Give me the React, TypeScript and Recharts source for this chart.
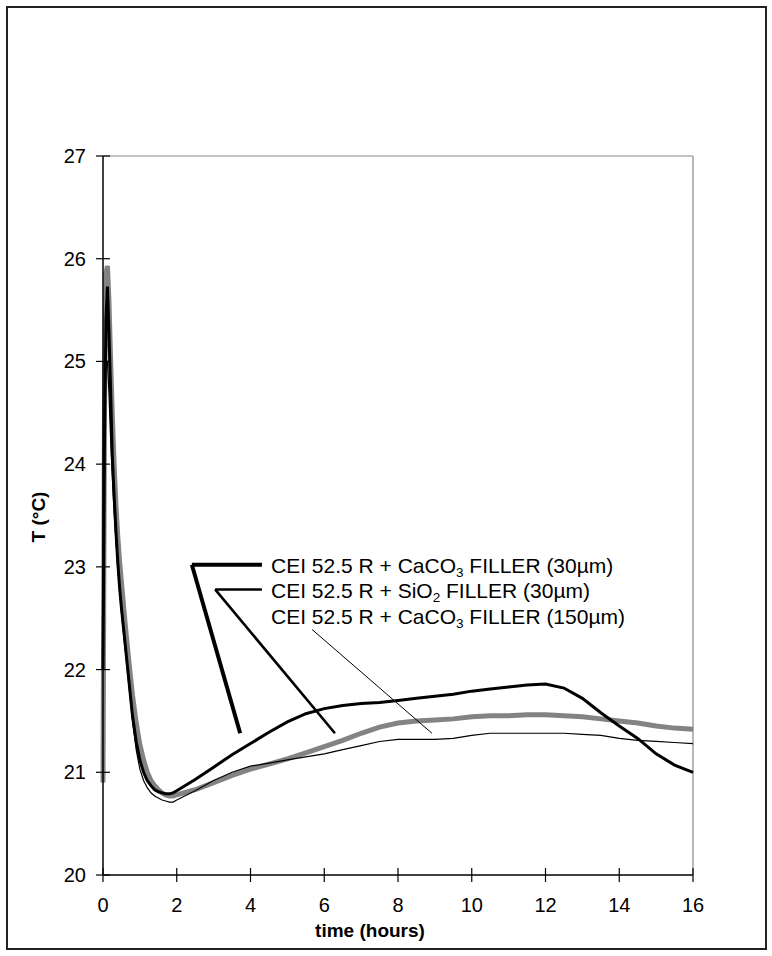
import React from 'react';
import { LineChart, Line, XAxis, YAxis, ReferenceLine } from 'recharts';

// time in hours
const time = [
  0, 0.04, 0.08, 0.12, 0.16, 0.2, 0.25, 0.3, 0.35, 0.4, 0.45, 0.5, 0.6, 0.7, 0.8, 0.9,
  1.0, 1.1, 1.2, 1.3, 1.4, 1.5, 1.6, 1.7, 1.8, 1.9,
  2.0, 2.5, 3.0, 3.5, 4.0, 4.5, 5.0, 5.5, 6.0, 6.5, 7.0, 7.5, 8.0, 8.5, 9.0, 9.5,
  10.0, 10.5, 11.0, 11.5, 12.0, 12.5, 13.0, 13.5, 14.0, 14.5, 15.0, 15.5, 16.0,
];

// CEI 52.5 R + CaCO3 FILLER (30um) - thick black
const caco3Fine = [
  22.0, 24.2, 25.4, 25.73, 25.3, 24.8, 24.1, 23.7, 23.35, 23.05, 22.8, 22.6, 22.25, 21.9, 21.55, 21.3,
  21.12, 21.0, 20.92, 20.87, 20.83, 20.81, 20.8, 20.79, 20.79, 20.8,
  20.82, 20.93, 21.05, 21.17, 21.28, 21.39, 21.49, 21.57, 21.62, 21.65, 21.67, 21.68, 21.7, 21.72, 21.74, 21.76,
  21.79, 21.81, 21.83, 21.85, 21.86, 21.82, 21.72, 21.58, 21.45, 21.33, 21.18, 21.07, 21.0,
];

// CEI 52.5 R + SiO2 FILLER (30um) - grey
const sio2Fine = [
  20.9, 24.5, 25.85, 25.93, 25.6, 25.1, 24.5, 24.0, 23.6, 23.3, 23.05, 22.85, 22.45, 22.08, 21.75, 21.48,
  21.27, 21.12, 21.0, 20.92, 20.87, 20.83, 20.8, 20.78, 20.77, 20.77,
  20.78, 20.83, 20.9, 20.97, 21.03, 21.08, 21.13, 21.19, 21.25, 21.31, 21.38, 21.44, 21.48, 21.5, 21.51, 21.52,
  21.54, 21.55, 21.55, 21.56, 21.56, 21.55, 21.54, 21.52, 21.5, 21.48, 21.45, 21.43, 21.42,
];

// CEI 52.5 R + CaCO3 FILLER (150um) - thin black
const caco3Coarse = [
  22.3, 24.2, 25.0, 25.0, 24.7, 24.3, 23.9, 23.55, 23.25, 22.98, 22.75, 22.55, 22.2, 21.85, 21.5, 21.22,
  21.03, 20.92, 20.85, 20.8, 20.77, 20.75, 20.73, 20.72, 20.71, 20.71,
  20.73, 20.82, 20.92, 21.0, 21.06, 21.09, 21.12, 21.15, 21.18, 21.22, 21.26, 21.3, 21.32, 21.32, 21.32, 21.33,
  21.36, 21.38, 21.38, 21.38, 21.38, 21.38, 21.37, 21.36, 21.33, 21.31, 21.3, 21.29, 21.28,
];

const xTicks = [0, 2, 4, 6, 8, 10, 12, 14, 16];
const yTicks = [20, 21, 22, 23, 24, 25, 26, 27];

const data = time.map((t, i) => ({ t, a: caco3Fine[i], b: sio2Fine[i], c: caco3Coarse[i] }));

const FONT = '"Liberation Sans", Arial, sans-serif';

const YTick = (props: any) => {
  const { x, y, payload } = props;
  return (
    <g>
      <line x1={x - 7} x2={x + 7} y1={y} y2={y} stroke="#000" strokeWidth={1.2} />
      <text x={x - 17} y={y} dy={7} textAnchor="end" fontSize={20} fontFamily={FONT} fill="#000">
        {payload.value}
      </text>
    </g>
  );
};

const XTick = (props: any) => {
  const { x, y, payload } = props;
  return (
    <g>
      <line x1={x} x2={x} y1={y - 7} y2={y + 7} stroke="#000" strokeWidth={1.2} />
      <text x={x} y={y + 37} textAnchor="middle" fontSize={20} fontFamily={FONT} fill="#000">
        {payload.value}
      </text>
    </g>
  );
};

const labelStyle: React.CSSProperties = {
  position: 'absolute',
  left: 271,
  fontFamily: FONT,
  fontSize: 21,
  lineHeight: '22px',
  height: 22,
  whiteSpace: 'nowrap',
  color: '#000',
};
const subStyle: React.CSSProperties = { fontSize: 13.5, position: 'relative', top: 4, lineHeight: '13px' };

export default function App() {
  return (
    <div style={{ position: 'absolute', left: 0, top: 0, width: 772, height: 956, background: '#fff' }}>
      <div
        style={{
          position: 'absolute',
          left: 6,
          top: 6,
          width: 757,
          height: 940,
          border: '2px solid #222',
        }}
      />
      <LineChart
        width={772}
        height={956}
        data={data}
        margin={{ top: 156, right: 79, bottom: 21, left: 23 }}
      >
        <XAxis
          type="number"
          dataKey="t"
          domain={[0, 16]}
          ticks={xTicks}
          interval={0}
          height={60}
          tickLine={false}
          tickSize={0}
          tickMargin={0}
          tick={<XTick />}
          axisLine={{ stroke: '#000', strokeWidth: 1.5 }}
        />
        <YAxis
          type="number"
          domain={[20, 27]}
          ticks={yTicks}
          interval={0}
          width={80}
          tickLine={false}
          tickSize={0}
          tickMargin={0}
          tick={<YTick />}
          axisLine={{ stroke: '#000', strokeWidth: 1.5 }}
        />
        <ReferenceLine y={27} stroke="#888" strokeWidth={1.2} />
        <ReferenceLine x={16} stroke="#888" strokeWidth={1.2} />
        <Line type="linear" dataKey="b" stroke="#838383" strokeWidth={5} dot={false} isAnimationActive={false} />
        <Line type="linear" dataKey="c" stroke="#000" strokeWidth={1.2} dot={false} isAnimationActive={false} />
        <Line type="linear" dataKey="a" stroke="#000" strokeWidth={3} dot={false} isAnimationActive={false} />
        {/* leader lines */}
        <ReferenceLine segment={[{ x: 4.31, y: 23.02 }, { x: 2.41, y: 23.02 }]} stroke="#000" strokeWidth={4} />
        <ReferenceLine segment={[{ x: 2.41, y: 23.02 }, { x: 3.72, y: 21.38 }]} stroke="#000" strokeWidth={4} />
        <ReferenceLine segment={[{ x: 4.31, y: 22.78 }, { x: 3.04, y: 22.78 }]} stroke="#000" strokeWidth={2.6} />
        <ReferenceLine segment={[{ x: 3.04, y: 22.78 }, { x: 6.29, y: 21.38 }]} stroke="#000" strokeWidth={2.6} />
        <ReferenceLine segment={[{ x: 5.67, y: 22.39 }, { x: 8.92, y: 21.38 }]} stroke="#000" strokeWidth={1} />
      </LineChart>
      <div style={{ ...labelStyle, top: 555 }}>
        CEI 52.5 R + CaCO<span style={subStyle}>3</span> FILLER (30µm)
      </div>
      <div style={{ ...labelStyle, top: 580 }}>
        CEI 52.5 R + SiO<span style={subStyle}>2</span> FILLER (30µm)
      </div>
      <div style={{ ...labelStyle, top: 606 }}>
        CEI 52.5 R + CaCO<span style={subStyle}>3</span> FILLER (150µm)
      </div>
      <div
        style={{
          position: 'absolute',
          left: 39,
          top: 517,
          transform: 'translate(-50%, -50%) rotate(-90deg)',
          fontFamily: FONT,
          fontWeight: 'bold',
          fontSize: 19,
          whiteSpace: 'nowrap',
        }}
      >
        T (°C)
      </div>
      <div
        style={{
          position: 'absolute',
          left: 370,
          top: 931,
          transform: 'translate(-50%, -50%)',
          fontFamily: FONT,
          fontWeight: 'bold',
          fontSize: 19,
          whiteSpace: 'nowrap',
        }}
      >
        time (hours)
      </div>
    </div>
  );
}
